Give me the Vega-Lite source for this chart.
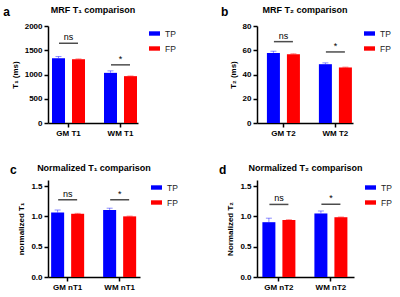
{
  "$schema": "https://vega.github.io/schema/vega-lite/v6.json",
  "padding": {"left": 3, "top": 6, "right": 0, "bottom": 0},
  "config": {
    "font": "Liberation Sans",
    "view": {"stroke": null},
    "axis": {"grid": false, "labelOverlap": false, "domainColor": "#000", "domainWidth": 1.5, "tickColor": "#000", "tickWidth": 1.5, "tickSize": 4, "labelFont": "Liberation Sans", "labelFontSize": 8, "labelFontWeight": "bold", "labelColor": "#000", "titleFont": "Liberation Sans", "titleFontSize": 8, "titleFontWeight": "bold", "titleColor": "#000", "labelPadding": 2, "titlePadding": 5},
    "axisX": {"labelAngle": 0, "labelPadding": 2},
    "title": {"fontSize": 9, "fontWeight": "bold", "font": "Liberation Sans", "color": "#000", "offset": 7},
    "legend": {"title": null, "labelFontSize": 8.5, "labelColor": "#222", "symbolType": "M-1,-0.4H1V0.4H-1Z", "symbolSize": 121, "symbolStrokeWidth": 0, "symbolOpacity": 1, "offset": 9, "rowPadding": 5, "padding": 2, "labelOffset": 5}
  },
  "datasets": {
    "bars": [
      {"panel": "a", "cat": "GM T1", "grp": "TP", "value": 1336, "upper": 1370},
      {"panel": "a", "cat": "GM T1", "grp": "FP", "value": 1315, "upper": 1322},
      {"panel": "a", "cat": "WM T1", "grp": "TP", "value": 1034, "upper": 1075},
      {"panel": "a", "cat": "WM T1", "grp": "FP", "value": 966, "upper": 970},
      {"panel": "b", "cat": "GM T2", "grp": "TP", "value": 57.8, "upper": 59.2},
      {"panel": "b", "cat": "GM T2", "grp": "FP", "value": 56.7, "upper": 57.1},
      {"panel": "b", "cat": "WM T2", "grp": "TP", "value": 48.5, "upper": 49.6},
      {"panel": "b", "cat": "WM T2", "grp": "FP", "value": 45.8, "upper": 46.1},
      {"panel": "c", "cat": "GM nT1", "grp": "TP", "value": 1.063, "upper": 1.104},
      {"panel": "c", "cat": "GM nT1", "grp": "FP", "value": 1.043, "upper": 1.05},
      {"panel": "c", "cat": "WM nT1", "grp": "TP", "value": 1.104, "upper": 1.135},
      {"panel": "c", "cat": "WM nT1", "grp": "FP", "value": 1.0, "upper": 1.005},
      {"panel": "d", "cat": "GM nT2", "grp": "TP", "value": 0.904, "upper": 0.97},
      {"panel": "d", "cat": "GM nT2", "grp": "FP", "value": 0.94, "upper": 0.945},
      {"panel": "d", "cat": "WM nT2", "grp": "TP", "value": 1.048, "upper": 1.089},
      {"panel": "d", "cat": "WM nT2", "grp": "FP", "value": 0.986, "upper": 0.99}
    ],
    "sig": [
      {"panel": "a", "cat": "GM T1", "y": 1644, "label": "ns"},
      {"panel": "a", "cat": "WM T1", "y": 1199, "label": "*"},
      {"panel": "b", "cat": "GM T2", "y": 67.1, "label": "ns"},
      {"panel": "b", "cat": "WM T2", "y": 58.6, "label": "*"},
      {"panel": "c", "cat": "GM nT1", "y": 1.274, "label": "ns"},
      {"panel": "c", "cat": "WM nT1", "y": 1.274, "label": "*"},
      {"panel": "d", "cat": "GM nT2", "y": 1.197, "label": "ns"},
      {"panel": "d", "cat": "WM nT2", "y": 1.2, "label": "*"}
    ]
  },
  "columns": 2,
  "spacing": {"row": 27, "column": 38},
  "resolve": {"scale": {"color": "independent"}, "legend": {"color": "independent"}},
  "concat": [
    {
      "title": {"text": "a", "anchor": "start", "fontSize": 12, "offset": -13, "dx": -8},
      "resolve": {"scale": {"color": "independent"}, "legend": {"color": "independent"}},
      "vconcat": [{
        "width": 90, "height": 97,
        "title": "MRF T₁ comparison",
        "layer": [
          {"data": {"name": "bars"}, "transform": [{"filter": "datum.panel === 'a'"}], "mark": "bar",
           "encoding": {
             "x": {"field": "cat", "type": "nominal", "title": null, "scale": {"paddingInner": 0.365, "paddingOuter": 0.048, "align": 0.8}},
             "xOffset": {"field": "grp", "type": "nominal", "sort": ["TP", "FP"], "scale": {"paddingInner": 0.35}},
             "y": {"field": "value", "type": "quantitative", "title": "T₁ (ms)", "scale": {"domain": [0, 2000]}, "axis": {"values": [0, 500, 1000, 1500, 2000], "format": "d"}},
             "color": {"field": "grp", "type": "nominal", "scale": {"domain": ["TP", "FP"], "range": ["#0000ff", "#ff0000"]}}
           }},
          {"data": {"name": "bars"}, "transform": [{"filter": "datum.panel === 'a'"}], "mark": {"type": "rule", "opacity": 0.45, "strokeWidth": 1},
           "encoding": {
             "x": {"field": "cat", "type": "nominal", "title": null},
             "xOffset": {"field": "grp", "type": "nominal", "sort": ["TP", "FP"]},
             "y": {"field": "value", "type": "quantitative", "title": "T₁ (ms)", "axis": {"values": [0, 500, 1000, 1500, 2000], "format": "d"}},
             "y2": {"field": "upper"},
             "color": {"field": "grp", "type": "nominal"}
           }},
          {"data": {"name": "bars"}, "transform": [{"filter": "datum.panel === 'a'"}], "mark": {"type": "tick", "size": 6, "thickness": 1, "opacity": 0.45},
           "encoding": {
             "x": {"field": "cat", "type": "nominal", "title": null},
             "xOffset": {"field": "grp", "type": "nominal", "sort": ["TP", "FP"]},
             "y": {"field": "upper", "type": "quantitative", "title": "T₁ (ms)", "axis": {"values": [0, 500, 1000, 1500, 2000], "format": "d"}},
             "color": {"field": "grp", "type": "nominal"}
           }},
          {"data": {"name": "sig"}, "transform": [{"filter": "datum.panel === 'a'"}], "mark": {"type": "tick", "size": 19, "thickness": 1.5, "color": "#000"},
           "encoding": {
             "x": {"field": "cat", "type": "nominal", "title": null},
             "y": {"field": "y", "type": "quantitative", "title": "T₁ (ms)", "axis": {"values": [0, 500, 1000, 1500, 2000], "format": "d"}}
           }},
          {"data": {"name": "sig"}, "transform": [{"filter": "datum.panel === 'a'"}], "mark": {"type": "text", "baseline": "alphabetic", "dy": -3, "fontSize": 9, "color": "#000"},
           "encoding": {
             "x": {"field": "cat", "type": "nominal", "title": null},
             "y": {"field": "y", "type": "quantitative", "title": "T₁ (ms)", "axis": {"values": [0, 500, 1000, 1500, 2000], "format": "d"}},
             "text": {"field": "label"}
           }}
        ]
      }]
    },
    {
      "title": {"text": "b", "anchor": "start", "fontSize": 12, "offset": -13, "dx": -8},
      "resolve": {"scale": {"color": "independent"}, "legend": {"color": "independent"}},
      "vconcat": [{
        "width": 96, "height": 97,
        "title": "MRF T₂ comparison",
        "layer": [
          {"data": {"name": "bars"}, "transform": [{"filter": "datum.panel === 'b'"}], "mark": "bar",
           "encoding": {
             "x": {"field": "cat", "type": "nominal", "title": null, "scale": {"paddingInner": 0.365, "paddingOuter": 0.106, "align": 0.9}},
             "xOffset": {"field": "grp", "type": "nominal", "sort": ["TP", "FP"], "scale": {"paddingInner": 0.35}},
             "y": {"field": "value", "type": "quantitative", "title": "T₂ (ms)", "scale": {"domain": [0, 80]}, "axis": {"values": [0, 20, 40, 60, 80]}},
             "color": {"field": "grp", "type": "nominal", "scale": {"domain": ["TP", "FP"], "range": ["#0000ff", "#ff0000"]}}
           }},
          {"data": {"name": "bars"}, "transform": [{"filter": "datum.panel === 'b'"}], "mark": {"type": "rule", "opacity": 0.45, "strokeWidth": 1},
           "encoding": {
             "x": {"field": "cat", "type": "nominal", "title": null},
             "xOffset": {"field": "grp", "type": "nominal", "sort": ["TP", "FP"]},
             "y": {"field": "value", "type": "quantitative", "title": "T₂ (ms)", "axis": {"values": [0, 20, 40, 60, 80]}},
             "y2": {"field": "upper"},
             "color": {"field": "grp", "type": "nominal"}
           }},
          {"data": {"name": "bars"}, "transform": [{"filter": "datum.panel === 'b'"}], "mark": {"type": "tick", "size": 6, "thickness": 1, "opacity": 0.45},
           "encoding": {
             "x": {"field": "cat", "type": "nominal", "title": null},
             "xOffset": {"field": "grp", "type": "nominal", "sort": ["TP", "FP"]},
             "y": {"field": "upper", "type": "quantitative", "title": "T₂ (ms)", "axis": {"values": [0, 20, 40, 60, 80]}},
             "color": {"field": "grp", "type": "nominal"}
           }},
          {"data": {"name": "sig"}, "transform": [{"filter": "datum.panel === 'b'"}], "mark": {"type": "tick", "size": 19, "thickness": 1.5, "color": "#000"},
           "encoding": {
             "x": {"field": "cat", "type": "nominal", "title": null},
             "y": {"field": "y", "type": "quantitative", "title": "T₂ (ms)", "axis": {"values": [0, 20, 40, 60, 80]}}
           }},
          {"data": {"name": "sig"}, "transform": [{"filter": "datum.panel === 'b'"}], "mark": {"type": "text", "baseline": "alphabetic", "dy": -3, "fontSize": 9, "color": "#000"},
           "encoding": {
             "x": {"field": "cat", "type": "nominal", "title": null},
             "y": {"field": "y", "type": "quantitative", "title": "T₂ (ms)", "axis": {"values": [0, 20, 40, 60, 80]}},
             "text": {"field": "label"}
           }}
        ]
      }]
    },
    {
      "title": {"text": "c", "anchor": "start", "fontSize": 12, "offset": -13, "dx": -8},
      "resolve": {"scale": {"color": "independent"}, "legend": {"color": "independent"}},
      "vconcat": [{
        "width": 92, "height": 97,
        "title": "Normalized T₁ comparison",
        "layer": [
          {"data": {"name": "bars"}, "transform": [{"filter": "datum.panel === 'c'"}], "mark": "bar",
           "encoding": {
             "x": {"field": "cat", "type": "nominal", "title": null, "scale": {"paddingInner": 0.365, "paddingOuter": 0.067, "align": 0.45}},
             "xOffset": {"field": "grp", "type": "nominal", "sort": ["TP", "FP"], "scale": {"paddingInner": 0.35}},
             "y": {"field": "value", "type": "quantitative", "title": "normalized T₁", "scale": {"domain": [0, 1.5]}, "axis": {"values": [0, 0.5, 1, 1.5], "format": ".1f"}},
             "color": {"field": "grp", "type": "nominal", "scale": {"domain": ["TP", "FP"], "range": ["#0000ff", "#ff0000"]}}
           }},
          {"data": {"name": "bars"}, "transform": [{"filter": "datum.panel === 'c'"}], "mark": {"type": "rule", "opacity": 0.45, "strokeWidth": 1},
           "encoding": {
             "x": {"field": "cat", "type": "nominal", "title": null},
             "xOffset": {"field": "grp", "type": "nominal", "sort": ["TP", "FP"]},
             "y": {"field": "value", "type": "quantitative", "title": "normalized T₁", "axis": {"values": [0, 0.5, 1, 1.5], "format": ".1f"}},
             "y2": {"field": "upper"},
             "color": {"field": "grp", "type": "nominal"}
           }},
          {"data": {"name": "bars"}, "transform": [{"filter": "datum.panel === 'c'"}], "mark": {"type": "tick", "size": 6, "thickness": 1, "opacity": 0.45},
           "encoding": {
             "x": {"field": "cat", "type": "nominal", "title": null},
             "xOffset": {"field": "grp", "type": "nominal", "sort": ["TP", "FP"]},
             "y": {"field": "upper", "type": "quantitative", "title": "normalized T₁", "axis": {"values": [0, 0.5, 1, 1.5], "format": ".1f"}},
             "color": {"field": "grp", "type": "nominal"}
           }},
          {"data": {"name": "sig"}, "transform": [{"filter": "datum.panel === 'c'"}], "mark": {"type": "tick", "size": 19, "thickness": 1.5, "color": "#000"},
           "encoding": {
             "x": {"field": "cat", "type": "nominal", "title": null},
             "y": {"field": "y", "type": "quantitative", "title": "normalized T₁", "axis": {"values": [0, 0.5, 1, 1.5], "format": ".1f"}}
           }},
          {"data": {"name": "sig"}, "transform": [{"filter": "datum.panel === 'c'"}], "mark": {"type": "text", "baseline": "alphabetic", "dy": -3, "fontSize": 9, "color": "#000"},
           "encoding": {
             "x": {"field": "cat", "type": "nominal", "title": null},
             "y": {"field": "y", "type": "quantitative", "title": "normalized T₁", "axis": {"values": [0, 0.5, 1, 1.5], "format": ".1f"}},
             "text": {"field": "label"}
           }}
        ]
      }]
    },
    {
      "title": {"text": "d", "anchor": "start", "fontSize": 12, "offset": -13, "dx": -8},
      "resolve": {"scale": {"color": "independent"}, "legend": {"color": "independent"}},
      "vconcat": [{
        "width": 97, "height": 97,
        "title": "Normalized T₂ comparison",
        "layer": [
          {"data": {"name": "bars"}, "transform": [{"filter": "datum.panel === 'd'"}], "mark": "bar",
           "encoding": {
             "x": {"field": "cat", "type": "nominal", "title": null, "scale": {"paddingInner": 0.365, "paddingOuter": 0.115, "align": 0.45}},
             "xOffset": {"field": "grp", "type": "nominal", "sort": ["TP", "FP"], "scale": {"paddingInner": 0.35}},
             "y": {"field": "value", "type": "quantitative", "title": "Normalized T₂", "scale": {"domain": [0, 1.5]}, "axis": {"values": [0, 0.5, 1, 1.5], "format": ".1f"}},
             "color": {"field": "grp", "type": "nominal", "scale": {"domain": ["TP", "FP"], "range": ["#0000ff", "#ff0000"]}}
           }},
          {"data": {"name": "bars"}, "transform": [{"filter": "datum.panel === 'd'"}], "mark": {"type": "rule", "opacity": 0.45, "strokeWidth": 1},
           "encoding": {
             "x": {"field": "cat", "type": "nominal", "title": null},
             "xOffset": {"field": "grp", "type": "nominal", "sort": ["TP", "FP"]},
             "y": {"field": "value", "type": "quantitative", "title": "Normalized T₂", "axis": {"values": [0, 0.5, 1, 1.5], "format": ".1f"}},
             "y2": {"field": "upper"},
             "color": {"field": "grp", "type": "nominal"}
           }},
          {"data": {"name": "bars"}, "transform": [{"filter": "datum.panel === 'd'"}], "mark": {"type": "tick", "size": 6, "thickness": 1, "opacity": 0.45},
           "encoding": {
             "x": {"field": "cat", "type": "nominal", "title": null},
             "xOffset": {"field": "grp", "type": "nominal", "sort": ["TP", "FP"]},
             "y": {"field": "upper", "type": "quantitative", "title": "Normalized T₂", "axis": {"values": [0, 0.5, 1, 1.5], "format": ".1f"}},
             "color": {"field": "grp", "type": "nominal"}
           }},
          {"data": {"name": "sig"}, "transform": [{"filter": "datum.panel === 'd'"}], "mark": {"type": "tick", "size": 19, "thickness": 1.5, "color": "#000"},
           "encoding": {
             "x": {"field": "cat", "type": "nominal", "title": null},
             "y": {"field": "y", "type": "quantitative", "title": "Normalized T₂", "axis": {"values": [0, 0.5, 1, 1.5], "format": ".1f"}}
           }},
          {"data": {"name": "sig"}, "transform": [{"filter": "datum.panel === 'd'"}], "mark": {"type": "text", "baseline": "alphabetic", "dy": -3, "fontSize": 9, "color": "#000"},
           "encoding": {
             "x": {"field": "cat", "type": "nominal", "title": null},
             "y": {"field": "y", "type": "quantitative", "title": "Normalized T₂", "axis": {"values": [0, 0.5, 1, 1.5], "format": ".1f"}},
             "text": {"field": "label"}
           }}
        ]
      }]
    }
  ]
}
